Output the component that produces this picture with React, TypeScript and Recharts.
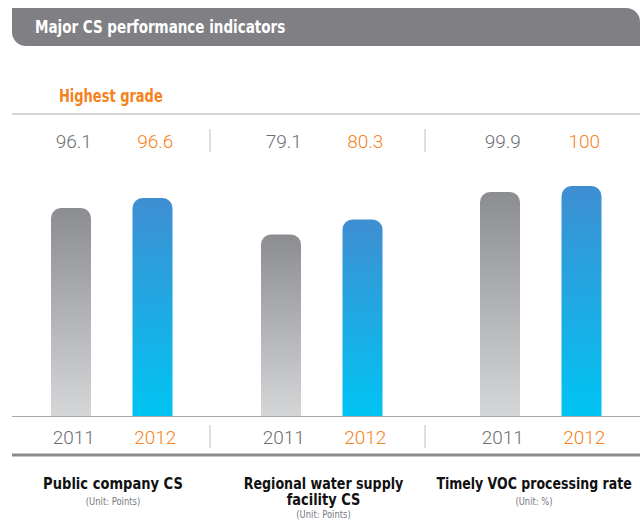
import { BarChart, Bar, XAxis, YAxis, Cell } from 'recharts';

const years = ['2011', '2012'];
const publicCS = [96.1, 96.6];
const waterCS = [79.1, 80.3];
const vocRate = [99.9, 100];
const groupTitles = [
  ['Public company CS'],
  ['Regional water supply', 'facility CS'],
  ['Timely VOC processing rate'],
];
const groupUnits = ['(Unit: Points)', '(Unit: Points)', '(Unit: %)'];

const NARROW = "'DejaVu Sans Condensed', 'Liberation Sans Narrow', sans-serif";
const NUM_FONT = "Roboto, 'DejaVu Sans Condensed', sans-serif";
const GRAY_TEXT = '#6d6e71';
const ORANGE = '#f58220';

// each indicator is drawn on its own scale, like the printed figure
const groups = [
  { values: publicCS, center: 111, domain: [85.7, 97.8], squeeze: [0.97], unitSqueeze: 0.85 },
  { values: waterCS, center: 321.5, domain: [64.58, 83.94], squeeze: [0.94, 0.96], unitSqueeze: 0.85 },
  { values: vocRate, center: 540, domain: [96.167, 100.2], squeeze: [0.93], unitSqueeze: 0.85 },
];

const CHART_TOP = 114;
const CHART_W = 163;
const CHART_H = 342;

function YearTick({ x, payload }: any) {
  const i = years.indexOf(payload.value);
  return (
    <text x={x + 3} y={330} textAnchor="middle" fontSize={19} fontWeight={300} fontFamily={NUM_FONT} fill={i === 0 ? GRAY_TEXT : ORANGE}>
      {payload.value}
    </text>
  );
}

function ValueTick({ x, payload, values }: any) {
  const i = years.indexOf(payload.value);
  return (
    <text x={x + 3} y={34} textAnchor="middle" fontSize={19} fontWeight={300} fontFamily={NUM_FONT} fill={i === 0 ? GRAY_TEXT : ORANGE}>
      {values[i]}
    </text>
  );
}

function GroupChart({ values, domain, id }: { values: number[]; domain: number[]; id: number }) {
  const data = years.map((year, i) => ({ year, value: values[i] }));
  return (
    <BarChart width={CHART_W} height={CHART_H} data={data} margin={{ top: 0, right: 0, bottom: 0, left: 0 }}>
      <defs>
        <linearGradient id={`gray${id}`} x1="0" y1="0" x2="0" y2="1">
          <stop offset="0%" stopColor="#8c8d91" />
          <stop offset="100%" stopColor="#d5d6d8" />
        </linearGradient>
        <linearGradient id={`blue${id}`} x1="0" y1="0" x2="0" y2="1">
          <stop offset="0%" stopColor="#3f8ed2" />
          <stop offset="100%" stopColor="#00c4f3" />
        </linearGradient>
      </defs>
      <XAxis
        dataKey="year"
        height={40}
        axisLine={false}
        tickLine={false}
        interval={0}
        tick={<YearTick />}
      />
      <XAxis
        xAxisId="top"
        orientation="top"
        dataKey="year"
        height={60}
        axisLine={false}
        tickLine={false}
        interval={0}
        tick={<ValueTick values={values} />}
      />
      <YAxis hide domain={domain} allowDataOverflow />
      <Bar dataKey="value" barSize={40} radius={[10, 10, 0, 0]} isAnimationActive={false}>
        {data.map((d, i) => (
          <Cell key={d.year} fill={i === 0 ? `url(#gray${id})` : `url(#blue${id})`} />
        ))}
      </Bar>
    </BarChart>
  );
}

export default function App() {
  return (
    <div style={{ position: 'absolute', left: 0, top: 0, width: 640, height: 523, background: '#fff' }}>
      <svg width={640} height={523} style={{ position: 'absolute', left: 0, top: 0 }}>
        {/* Header */}
        <path d="M12 8 H626 A14 14 0 0 1 640 22 V46 H26 A14 14 0 0 1 12 32 Z" fill="#808084" />
        <text transform="translate(35 33) scale(0.883 1)" fontSize={17} fontWeight="bold" fontFamily={NARROW} fill="#fff">
          Major CS performance indicators
        </text>
        <text transform="translate(59 102) scale(0.85 1)" fontSize={17} fontWeight="bold" fontFamily={NARROW} fill={ORANGE}>
          Highest grade
        </text>
        <line x1={12} x2={640} y1={114} y2={114} stroke="#c6c7c9" strokeWidth={1.5} />
        <line x1={12} x2={640} y1={416.5} y2={416.5} stroke="#a7a8ab" strokeWidth={1} />
        <line x1={12} x2={640} y1={455} y2={455} stroke="#8a8b8e" strokeWidth={3} />
        {[210, 425].map((x) => (
          <g key={x}>
            <line x1={x} x2={x} y1={129} y2={152} stroke="#bcbdc0" strokeWidth={1} />
            <line x1={x} x2={x} y1={425} y2={448} stroke="#bcbdc0" strokeWidth={1} />
          </g>
        ))}
        {groups.map((g, gi) => {
          const cx = g.center + (gi === 2 ? -6 : 2);
          return (
            <g key={gi}>
              {groupTitles[gi].map((line, li) => (
                <text
                  key={li}
                  transform={`translate(${cx} ${489 + li * 16}) scale(${g.squeeze[li]} 1)`}
                  textAnchor="middle"
                  fontSize={15}
                  fontWeight="bold"
                  fontFamily={NARROW}
                  fill="#111"
                >
                  {line}
                </text>
              ))}
              <text
                transform={`translate(${cx} ${505 + (groupTitles[gi].length - 1) * 13}) scale(${g.unitSqueeze} 1)`}
                textAnchor="middle"
                fontSize={11}
                fontFamily={NARROW}
                fill="#77787b"
              >
                {groupUnits[gi]}
              </text>
            </g>
          );
        })}
      </svg>
      {groups.map((g, gi) => (
        <div key={gi} style={{ position: 'absolute', left: g.center - CHART_W / 2, top: CHART_TOP }}>
          <GroupChart values={g.values} domain={g.domain} id={gi} />
        </div>
      ))}
    </div>
  );
}
